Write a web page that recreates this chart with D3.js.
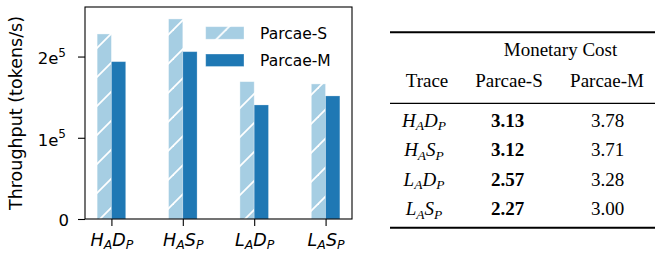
<!DOCTYPE html>
<meta charset="utf-8">
<style>
body { margin: 0; background: #fff; }
.axis text { font-family: "DejaVu Sans", sans-serif; fill: #000; }
.axis line, .axis path { stroke: #000; stroke-width: 1.1; }
.tbl { font-family: "Liberation Serif", "Times New Roman", serif; fill: #000; }
</style>
<body>
<script src="https://cdn.jsdelivr.net/npm/d3@7"></script>
<script>

// data
var traces = ["H_A D_P", "H_A S_P", "L_A D_P", "L_A S_P"];
var parcaeS = [2.278e5, 2.463e5, 1.691e5, 1.663e5];
var parcaeM = [1.937e5, 2.060e5, 1.404e5, 1.515e5];
var yTicks = [0, 1e5, 2e5];
var seriesNames = ["Parcae-S", "Parcae-M"];
var costS = ["3.13", "3.12", "2.57", "2.27"];
var costM = ["3.78", "3.71", "3.28", "3.00"];

var colS = "#a6cee3", colM = "#1f78b4";

var svg = d3.select("body").append("svg")
    .attr("width", 655)
    .attr("height", 253);

// hatch patterns ("/" white lines on light blue)
var defs = svg.append("defs");
function hatch(id, tx) {
  var p = defs.append("pattern")
      .attr("id", id)
      .attr("patternUnits", "userSpaceOnUse")
      .attr("width", 29).attr("height", 29)
      .attr("patternTransform", "translate(" + tx + ",0)");
  p.append("rect").attr("width", 29).attr("height", 29).attr("fill", colS);
  [[0, 29, 29, 0], [-3, 3, 3, -3], [26, 32, 32, 26]].forEach(function(l) {
    p.append("line")
        .attr("x1", l[0]).attr("y1", l[1]).attr("x2", l[2]).attr("y2", l[3])
        .attr("stroke", "#fff").attr("stroke-width", 1.8);
  });
}
hatch("hatchBar", 0);
hatch("hatchLeg", -5.3);

// scales
var x = d3.scaleLinear().domain([-0.37, 3.37]).range([85, 352]);
var y = d3.scaleLinear().domain([0, 2.61e5]).range([219, 7]);
var bw = 0.2;

// bars
svg.append("g").selectAll("rect")
    .data(parcaeS)
  .enter().append("rect")
    .attr("x", function(d, i) { return x(i - bw); })
    .attr("width", x(bw) - x(0))
    .attr("y", function(d) { return y(d); })
    .attr("height", function(d) { return y(0) - y(d); })
    .attr("fill", "url(#hatchBar)")
    .attr("stroke", "#fff").attr("stroke-opacity", 0.45).attr("stroke-width", 0.8);

svg.append("g").selectAll("rect")
    .data(parcaeM)
  .enter().append("rect")
    .attr("x", function(d, i) { return x(i); })
    .attr("width", x(bw) - x(0))
    .attr("y", function(d) { return y(d); })
    .attr("height", function(d) { return y(0) - y(d); })
    .attr("fill", colM)
    .attr("stroke", "#fff").attr("stroke-opacity", 0.3).attr("stroke-width", 0.8);

// frame
svg.append("rect")
    .attr("x", 85).attr("y", 7)
    .attr("width", 352 - 85).attr("height", 219 - 7)
    .attr("fill", "none").attr("stroke", "#000").attr("stroke-width", 1.1);

// y axis
var yAxis = svg.append("g")
    .attr("class", "axis")
    .attr("transform", "translate(85,0)")
    .call(d3.axisLeft(y).tickValues(yTicks).tickSize(7).tickSizeOuter(0).tickFormat(""));
yAxis.select(".domain").remove();
yAxis.selectAll(".tick").each(function(d) {
  var t = d3.select(this).append("text")
      .attr("x", -19).attr("y", d === 0 ? 6.5 : 7.4)
      .attr("text-anchor", "end")
      .attr("font-size", 16.5);
  if (d === 0) { t.attr("x", -16).text("0"); return; }
  t.append("tspan").text((d / 1e5) + "e");
  t.append("tspan").attr("dy", -7.5).attr("font-size", 12).text("5");
});

// x axis
var xAxis = svg.append("g")
    .attr("class", "axis")
    .attr("transform", "translate(0,219)")
    .call(d3.axisBottom(x).tickValues(d3.range(traces.length)).tickSize(7).tickSizeOuter(0).tickFormat(""));
xAxis.select(".domain").remove();

// "H_A D_P" -> H with subscript A, D with subscript P
function mathLabel(sel, label, big, small, drop) {
  var shift = 0;
  label.split(" ").forEach(function(part) {
    var p = part.split("_");
    sel.append("tspan").attr("font-size", big).attr("dy", -shift).text(p[0]);
    sel.append("tspan").attr("font-size", small).attr("dy", drop).text(p[1]);
    shift = drop;
  });
}

xAxis.selectAll(".tick").each(function(d) {
  var t = d3.select(this).append("text")
      .attr("y", 26.5)
      .attr("text-anchor", "middle")
      .attr("font-style", "italic");
  mathLabel(t, traces[d], 17.5, 12.5, 3);
});

// y label
svg.append("text")
    .attr("class", "axis")
    .attr("transform", "translate(22,113) rotate(-90)")
    .attr("text-anchor", "middle")
    .style("font-family", "DejaVu Sans, sans-serif")
    .attr("font-size", 17.5)
    .text("Throughput (tokens/s)");

// legend
var legend = svg.append("g")
    .selectAll("g")
    .data(seriesNames)
  .enter().append("g")
    .attr("transform", function(d, i) { return "translate(0," + i * 27.3 + ")"; });

legend.append("rect")
    .attr("x", 205.7).attr("y", 26.7)
    .attr("width", 38.3).attr("height", 12.5)
    .attr("fill", function(d, i) { return i === 0 ? "url(#hatchLeg)" : colM; })
    .attr("stroke", "#fff").attr("stroke-opacity", 0.4).attr("stroke-width", 0.8);

legend.append("text")
    .attr("x", 260).attr("y", 38.8)
    .style("font-family", "DejaVu Sans, sans-serif")
    .attr("font-size", 15.5)
    .text(function(d) { return d; });

// table
var tbl = svg.append("g").attr("class", "tbl");
var colX = [427, 509, 607];
var rowY = [126.8, 156.4, 185.8, 215.3];
var fs = 19;

tbl.append("line").attr("x1", 390).attr("x2", 655).attr("y1", 32.3).attr("y2", 32.3)
    .attr("stroke", "#000").attr("stroke-width", 2);
tbl.append("line").attr("x1", 390).attr("x2", 655).attr("y1", 103.3).attr("y2", 103.3)
    .attr("stroke", "#000").attr("stroke-width", 1.3);
tbl.append("line").attr("x1", 390).attr("x2", 655).attr("y1", 227.7).attr("y2", 227.7)
    .attr("stroke", "#000").attr("stroke-width", 2);

tbl.append("text").attr("class", "tbl")
    .attr("x", 560.5).attr("y", 55.7)
    .attr("text-anchor", "middle").attr("font-size", fs)
    .text("Monetary Cost");

["Trace"].concat(seriesNames).forEach(function(h, i) {
  tbl.append("text").attr("class", "tbl")
      .attr("x", colX[i]).attr("y", 86.7)
      .attr("text-anchor", "middle").attr("font-size", fs)
      .text(h);
});

traces.forEach(function(tr, i) {
  var t = tbl.append("text").attr("class", "tbl")
      .attr("x", colX[0] - 3).attr("y", rowY[i])
      .attr("text-anchor", "middle")
      .attr("font-style", "italic");
  mathLabel(t, tr, fs, 13.5, 3.5);

  tbl.append("text").attr("class", "tbl")
      .attr("x", colX[1] - 1.5).attr("y", rowY[i])
      .attr("text-anchor", "middle").attr("font-size", fs)
      .attr("font-weight", "bold")
      .text(costS[i]);

  tbl.append("text").attr("class", "tbl")
      .attr("x", colX[2] + 0.5).attr("y", rowY[i])
      .attr("text-anchor", "middle").attr("font-size", fs)
      .text(costM[i]);
});
</script>
</body>
